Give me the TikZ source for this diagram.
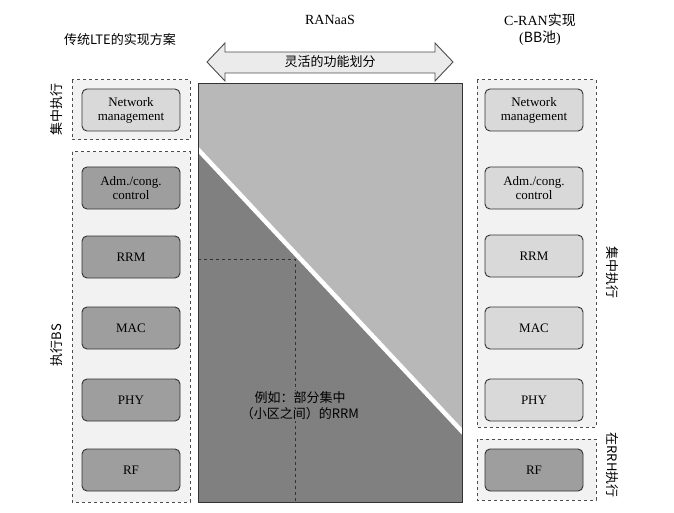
\documentclass[tikz,border=0pt]{standalone}
\usepackage{fontspec}
\setmainfont{Liberation Serif}
\newfontfamily\cjk{Noto Sans CJK SC}
\begin{document}
\begin{tikzpicture}[x=1pt,y=-1pt,
  dbox/.style={draw=black!70,dashed,line width=1pt,fill=black!5},
  blk/.style={draw=black!80,line width=0.9pt,rounded corners=5pt,minimum width=98pt,minimum height=42pt,align=center,font=\fontsize{13}{14}\selectfont,inner sep=1pt},
  lblk/.style={blk,fill=black!15},
  dblk/.style={blk,fill=black!38},
  cj/.style={font=\cjk\fontsize{13}{16}\selectfont}]
\useasboundingbox (0,0) rectangle (674,513);
% left
\node[cj] (lt) at (120,40) {传统LTE的实现方案};
\draw[dbox] (72,80) rectangle (190,140);
\draw[dbox] (72,152) rectangle (190,502);
\node[lblk] (lnm) at (131,110) {Network\\management};
\node[dblk] (ladm) at (131,188) {Adm./cong.\\control};
\node[dblk] (lrrm) at (131,257) {RRM};
\node[dblk] (lmac) at (131,328) {MAC};
\node[dblk] (lphy) at (131,400) {PHY};
\node[dblk] (lrf) at (131,470) {RF};
\node[cj,rotate=90] (lc) at (57,110) {集中执行};
\node[cj,rotate=90] (lb) at (57,345) {执行BS};
% middle
\fill[black!28] (198,84) -- (462,84) -- (462,428) -- (198,146) -- cycle;
\fill[black!50] (198,153) -- (462,435) -- (462,502) -- (198,502) -- cycle;
\draw[white,line width=2.5pt] (198,149.5) -- (462,431.5);
\draw[black!80,line width=1pt] (198,84) rectangle (462,502);
\coordinate (dh) at (198,259);
\coordinate (dc) at (295,259);
\coordinate (dv) at (295,502);
\draw[dashed,line width=1pt,black!80] (dh) -- (dc) -- (dv);
\node[cj,fill=black!50,inner sep=1pt,align=center] (ex) at (300,406) {例如：部分集中\\（小区之间）的RRM};
\node[font=\fontsize{14}{14}\selectfont] (ran) at (330,20) {RANaaS};
\draw[draw=black!70,line width=0.9pt,fill=black!8]
  (207,62) -- (225,43) -- (225,52) -- (435,52) -- (435,43) -- (453,62)
  -- (435,81) -- (435,73) -- (225,73) -- (225,81) -- cycle;
\node[cj] (flex) at (330,62) {灵活的功能划分};
% right
\node[align=center,font=\fontsize{14}{17}\selectfont] (rt) at (540,30) {C-RAN{\cjk 实现}\\({\cjk BB池})};
\draw[dbox] (477,80) rectangle (596,427);
\draw[dbox] (477,439) rectangle (596,500);
\node[lblk] (rnm) at (534,110) {Network\\management};
\node[lblk] (radm) at (534,188) {Adm./cong.\\control};
\node[lblk] (rrrm) at (534,256) {RRM};
\node[lblk] (rmac) at (534,328) {MAC};
\node[lblk] (rphy) at (534,400) {PHY};
\node[dblk] (rrf) at (534,470) {RF};
\node[cj,rotate=-90] (rc) at (612,272) {集中执行};
\node[cj,rotate=-90] (rr) at (612,465) {在RRH执行};
\end{tikzpicture}
\end{document}
